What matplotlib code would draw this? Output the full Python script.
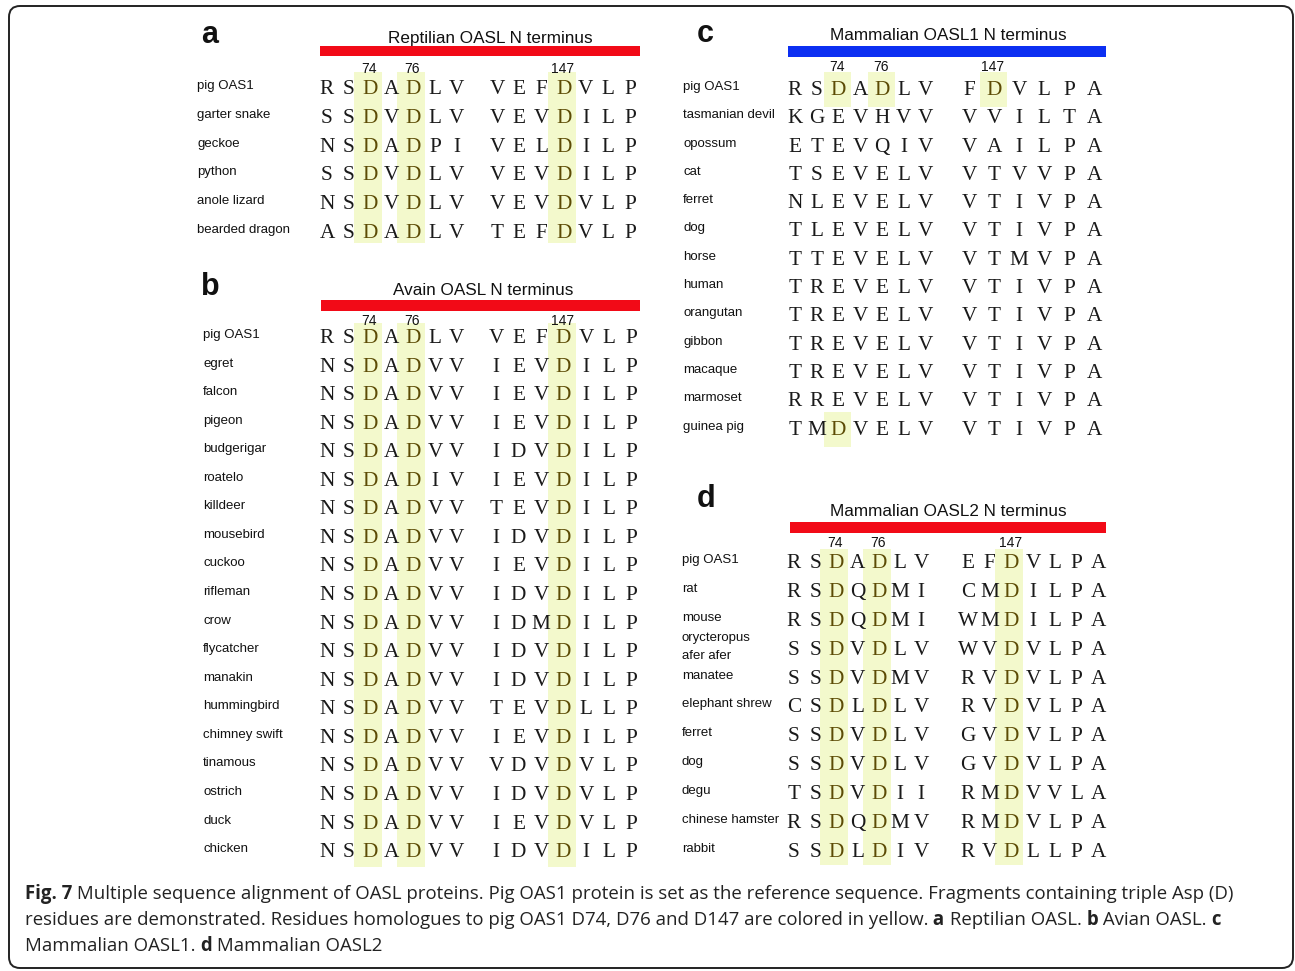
import matplotlib
matplotlib.use("Agg")
import matplotlib.pyplot as plt
from matplotlib.patches import Rectangle, FancyBboxPatch

# ---------------- data ----------------
a_names = ["pig OAS1", "garter snake", "geckoe", "python", "anole lizard", "bearded dragon"]
a_seq1 = ["RSDADLV", "SSDVDLV", "NSDADPI", "SSDVDLV", "NSDVDLV", "ASDADLV"]
a_seq2 = ["VEFDVLP", "VEVDILP", "VELDILP", "VEVDILP", "VEVDVLP", "TEFDVLP"]

b_names = ["pig OAS1", "egret", "falcon", "pigeon", "budgerigar", "roatelo", "killdeer",
           "mousebird", "cuckoo", "rifleman", "crow", "flycatcher", "manakin",
           "hummingbird", "chimney swift", "tinamous", "ostrich", "duck", "chicken"]
b_seq1 = ["RSDADLV", "NSDADVV", "NSDADVV", "NSDADVV", "NSDADVV", "NSDADIV", "NSDADVV",
          "NSDADVV", "NSDADVV", "NSDADVV", "NSDADVV", "NSDADVV", "NSDADVV",
          "NSDADVV", "NSDADVV", "NSDADVV", "NSDADVV", "NSDADVV", "NSDADVV"]
b_seq2 = ["VEFDVLP", "IEVDILP", "IEVDILP", "IEVDILP", "IDVDILP", "IEVDILP", "TEVDILP",
          "IDVDILP", "IEVDILP", "IDVDILP", "IDMDILP", "IDVDILP", "IDVDILP",
          "TEVDLLP", "IEVDILP", "VDVDVLP", "IDVDVLP", "IEVDVLP", "IDVDILP"]

c_names = ["pig OAS1", "tasmanian devil", "opossum", "cat", "ferret", "dog", "horse",
           "human", "orangutan", "gibbon", "macaque", "marmoset", "guinea pig"]
c_seq1 = ["RSDADLV", "KGEVHVV", "ETEVQIV", "TSEVELV", "NLEVELV", "TLEVELV", "TTEVELV",
          "TREVELV", "TREVELV", "TREVELV", "TREVELV", "RREVELV", "TMDVELV"]
c_seq2 = ["FDVLPA", "VVILTA", "VAILPA", "VTVVPA", "VTIVPA", "VTIVPA", "VTMVPA",
          "VTIVPA", "VTIVPA", "VTIVPA", "VTIVPA", "VTIVPA", "VTIVPA"]

d_names = ["pig OAS1", "rat", "mouse", "orycteropus\nafer afer", "manatee", "elephant shrew",
           "ferret", "dog", "degu", "chinese hamster", "rabbit"]
d_seq1 = ["RSDADLV", "RSDQDMI", "RSDQDMI", "SSDVDLV", "SSDVDMV", "CSDLDLV",
          "SSDVDLV", "SSDVDLV", "TSDVDII", "RSDQDMV", "SSDLDIV"]
d_seq2 = ["EFDVLPA", "CMDILPA", "WMDILPA", "WVDVLPA", "RVDVLPA", "RVDVLPA",
          "GVDVLPA", "GVDVLPA", "RMDVVLA", "RMDVLPA", "RVDLLPA"]

titles = ["Reptilian OASL N terminus", "Avain OASL N terminus",
          "Mammalian OASL1 N terminus", "Mammalian OASL2 N terminus"]
panel_letters = ["a", "b", "c", "d"]
site_labels = ["74", "76", "147"]

caption_lines = [
    [("Fig. 7", "bold"), (" Multiple sequence alignment of OASL proteins. Pig OAS1 protein is set as the reference sequence. Fragments containing triple Asp (D)", "normal")],
    [("residues are demonstrated. Residues homologues to pig OAS1 D74, D76 and D147 are colored in yellow.", "normal"),
     (" a", "bold"), (" Reptilian OASL.", "normal"), (" b", "bold"), (" Avian OASL.", "normal"), (" c", "bold")],
    [("Mammalian OASL1.", "normal"), (" d", "bold"), (" Mammalian OASL2", "normal")],
]

# ---------------- style ----------------
W, H = 1295, 971
HL = "#f3f9cc"
DCOL = "#5c4b05"
SANS = ["Liberation Sans", "DejaVu Sans"]
SERIF = ["Liberation Serif", "DejaVu Serif"]
LABEL_SIZE = 9.5
TITLE_SIZE = 12.3
NUM_SIZE = 10
RES_SIZE = 15.3

panels = [
    dict(names=a_names, s1=a_seq1, s2=a_seq2, title=titles[0], letter=panel_letters[0],
         x0=327, p1=21.6, g2=497, p2=22.2, y0=87, rp=28.8, lx=197,
         btop=72, bbot=243, key2=3, cellmode=False,
         tx=490, ty=43, bar=(320, 640, 46, 56), barc="#f20a17",
         lpos=(201, 43), ny=73),
    dict(names=b_names, s1=b_seq1, s2=b_seq2, title=titles[1], letter=panel_letters[1],
         x0=327, p1=21.6, g2=496, p2=22.5, y0=336, rp=28.56, lx=203,
         btop=323, bbot=867, key2=3, cellmode=False,
         tx=483, ty=295, bar=(321, 640, 300, 311), barc="#f20a17",
         lpos=(201, 295), ny=325),
    dict(names=c_names, s1=c_seq1, s2=c_seq2, title=titles[2], letter=panel_letters[2],
         x0=795, p1=21.7, g2=969, p2=25.0, y0=88, rp=28.3, lx=683,
         btop=None, bbot=None, key2=1, cellmode=True,
         tx=948, ty=40, bar=(788, 1106, 46, 57), barc="#0c2ff2",
         lpos=(697, 42), ny=71),
    dict(names=d_names, s1=d_seq1, s2=d_seq2, title=titles[3], letter=panel_letters[3],
         x0=794, p1=21.2, g2=968, p2=21.7, y0=561, rp=28.9, lx=682,
         btop=549, bbot=865, key2=2, cellmode=False,
         tx=948, ty=516, bar=(790, 1106, 522, 533), barc="#f20a17",
         lpos=(697, 507), ny=547),
]

fig = plt.figure(figsize=(W / 100, H / 100), dpi=100)
ax = fig.add_axes([0, 0, 1, 1])
ax.set_xlim(0, W)
ax.set_ylim(H, 0)
ax.axis("off")

# outer rounded border
ax.add_patch(FancyBboxPatch((9, 6), 1284, 962, boxstyle="round,pad=0,rounding_size=11",
                            fill=False, ec="#222222", lw=1.4))

for P in panels:
    xs1 = [P["x0"] + i * P["p1"] for i in range(len(P["s1"][0]))]
    xs2 = [P["g2"] + j * P["p2"] for j in range(len(P["s2"][0]))]
    keyx = [xs1[2], xs1[4], xs2[P["key2"]]]
    nrows = len(P["names"])
    rows_y = [P["y0"] + r * P["rp"] for r in range(nrows)]

    # highlight boxes
    if not P["cellmode"]:
        for kx in keyx:
            ax.add_patch(Rectangle((kx - 16, P["btop"]), 28, P["bbot"] - P["btop"],
                                   fc=HL, ec="none", zorder=1))
    else:
        for r in range(nrows):
            chars = [P["s1"][r][2], P["s1"][r][4], P["s2"][r][P["key2"]]]
            for kx, ch in zip(keyx, chars):
                if ch == "D":
                    ax.add_patch(Rectangle((kx - 14, rows_y[r] - 16), 27, 35,
                                           fc=HL, ec="none", zorder=1))

    # panel letter, title, bar
    ax.text(P["lpos"][0], P["lpos"][1], P["letter"], fontsize=22, fontweight="bold",
            family=SANS, ha="left", va="baseline", color="#111111")
    ax.text(P["tx"], P["ty"], P["title"], fontsize=TITLE_SIZE, family=SANS,
            ha="center", va="baseline", color="#111111")
    bx0, bx1, by0, by1 = P["bar"]
    ax.add_patch(Rectangle((bx0, by0), bx1 - bx0, by1 - by0, fc=P["barc"], ec="none"))

    # site numbers
    for kx, lab in zip(keyx, site_labels):
        ax.text(kx - 1, P["ny"], lab, fontsize=NUM_SIZE, family=SANS,
                ha="center", va="baseline", color="#111111", zorder=3)

    # rows
    for r in range(nrows):
        y = rows_y[r]
        name = P["names"][r]
        if "\n" in name:
            parts = name.split("\n")
            ax.text(P["lx"], y - 7, parts[0], fontsize=LABEL_SIZE, family=SANS,
                    ha="left", va="baseline", color="#111111")
            ax.text(P["lx"], y + 11, parts[1], fontsize=LABEL_SIZE, family=SANS,
                    ha="left", va="baseline", color="#111111")
        else:
            ax.text(P["lx"], y + 2, name, fontsize=LABEL_SIZE, family=SANS,
                    ha="left", va="baseline", color="#111111")
        for xs, seq, keyidx in ((xs1, P["s1"][r], (2, 4)), (xs2, P["s2"][r], (P["key2"],))):
            for i, ch in enumerate(seq):
                col = DCOL if (i in keyidx and ch == "D") else "#1a1a1a"
                ax.text(xs[i], y + 7, ch, fontsize=RES_SIZE, family=SERIF,
                        ha="center", va="baseline", color=col, zorder=3)

# caption with mixed weights
fig.canvas.draw()
renderer = fig.canvas.get_renderer()
cap_y = [899, 925, 951]
for line, yy in zip(caption_lines, cap_y):
    x = 25
    for txt, wt in line:
        t = ax.text(x, yy, txt, fontsize=13.4, family=["Open Sans", "DejaVu Sans"],
                    fontweight=wt, ha="left", va="baseline", color="#222222")
        bb = t.get_window_extent(renderer=renderer)
        x += bb.width

fig.savefig("out.png", dpi=100)
